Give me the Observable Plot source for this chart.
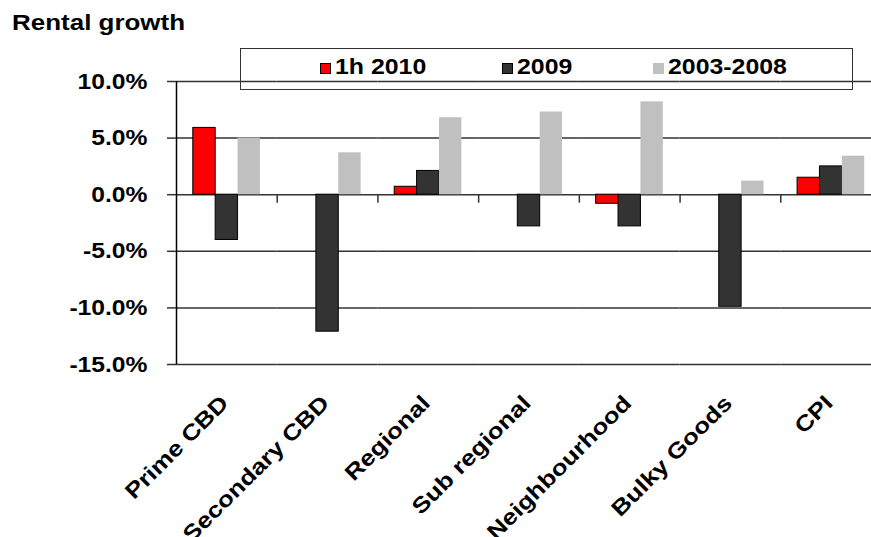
<!DOCTYPE html>
<html>
<head>
<meta charset="utf-8">
<script src="https://cdn.jsdelivr.net/npm/d3@7"></script>
<script src="https://cdn.jsdelivr.net/npm/@observablehq/plot@0.6"></script>
<style>
  body { margin: 0; background: #fff; }
  #wrap { position: relative; width: 871px; height: 537px; overflow: hidden;
          font-family: "Liberation Sans", Arial, sans-serif; font-weight: bold; color: #000; }
  #chart { position: absolute; left: 0; top: 0; }
  #title { position: absolute; left: 12px; top: 12px; font-size: 22px; line-height: 22px;
           white-space: nowrap; transform: scaleX(1.18); transform-origin: left center; }
  #legend { position: absolute; left: 240px; top: 48px; width: 613px; height: 42px;
            border: 1.5px solid #333; box-sizing: border-box; }
  .item { position: absolute; top: 7px; font-size: 22px; line-height: 22px; white-space: nowrap; }
  .sw { display: inline-block; margin-right: 4px; }
  .lt { display: inline-block; transform: scaleX(1.13); transform-origin: left center; }
</style>
</head>
<body>
<div id="wrap">
  <div id="chart"></div>
  <div id="title">Rental growth</div>
  <div id="legend"></div>
</div>
<script>
// Annual rental growth by retail / office segment, %
const categories = ["Prime CBD", "Secondary CBD", "Regional", "Sub regional", "Neighbourhood", "Bulky Goods", "CPI"];
const series = ["1h 2010", "2009", "2003-2008"];
const growth1h2010 = [5.9, null, 0.7, null, -0.8, null, 1.5];
const growth2009 = [-4.0, -12.1, 2.1, -2.8, -2.8, -9.9, 2.5];
const growth2003to2008 = [5.0, 3.7, 6.8, 7.3, 8.2, 1.2, 3.4];
const yTicks = [-15, -10, -5, 0, 5, 10];
const seriesColors = ["#ff0000", "#333333", "#c0c0c0"];
const legendLeft = [79, 261, 412];

// long table for the grouped bars
const columns = [growth1h2010, growth2009, growth2003to2008];
const rows = categories.flatMap((category, i) =>
  series.map((s, j) => ({category, series: s, value: columns[j][i]}))
).filter(d => d.value != null);

const W = 871, H = 537;
const mLeft = 176, mRight = -10, mTop = 81, mBottom = 173;
const step = (W - mLeft - mRight) / categories.length;

const chart = Plot.plot({
  width: W,
  height: H,
  marginTop: mTop,
  marginRight: mRight,
  marginBottom: mBottom,
  marginLeft: mLeft,
  style: {fontFamily: "'Liberation Sans', Arial, sans-serif", fontSize: "22px", fontWeight: "bold",
          color: "#000", background: "transparent"},
  fx: {domain: categories, padding: 0, round: false, axis: null, label: null},
  x: {domain: series, axis: null, round: false, paddingInner: 0, paddingOuter: 0.75},
  y: {domain: [-15, 10], axis: null},
  color: {domain: series, range: seriesColors},
  marks: [
    Plot.gridY(yTicks, {stroke: "#333", strokeOpacity: 1, strokeWidth: 1.5}),
    Plot.barY(rows, {filter: d => d.series !== series[2], fx: "category", x: "series", y: "value",
                     fill: "series", stroke: "#000", strokeWidth: 1}),
    Plot.barY(rows, {filter: d => d.series === series[2], fx: "category", x: "series", y: "value",
                     fill: "series"}),
    // category separators below the zero line
    Plot.ruleX(categories.slice(1), {fx: d => d, x: null, y1: 0, y2: -0.75, dx: -step / 2,
                                     stroke: "#333", strokeWidth: 1.5}),
    // vertical value axis line
    Plot.ruleX(categories.slice(0, 1), {fx: d => d, x: null, y1: -15, y2: 10, dx: -step / 2,
                                        stroke: "#000", strokeWidth: 1.5}),
    Plot.axisY({ticks: yTicks, tickSize: 9, tickPadding: 20, label: null,
                tickFormat: d => d.toFixed(1) + "%", stroke: "#333", strokeWidth: 1.5}),
    Plot.axisFx({anchor: "bottom", tickSize: 0, tickRotate: -45, textAnchor: "end", lineAnchor: "middle",
                 tickPadding: 35, dx: -2, label: null})
  ]
});
document.getElementById("chart").append(chart);

// wide bold lettering: stretch each end-anchored label, keeping its end in place
function widen(selector, k) {
  chart.querySelectorAll(selector).forEach(t => {
    const len = t.getComputedTextLength() * k;
    t.setAttribute("text-anchor", "start");
    t.setAttribute("x", (-len).toFixed(1));
    t.setAttribute("textLength", len.toFixed(1));
    t.setAttribute("lengthAdjust", "spacingAndGlyphs");
  });
}
widen('g[aria-label="y-axis tick label"] text', 1.12);
widen('g[aria-label="fx-axis tick label"] text', 1.18);

// legend
const legend = document.getElementById("legend");
series.forEach((s, i) => {
  const item = document.createElement("div");
  item.className = "item";
  item.style.left = legendLeft[i] + "px";
  const sw = document.createElement("span");
  sw.className = "sw";
  if (i < 2) {
    sw.style.width = "9px"; sw.style.height = "9px"; sw.style.border = "1px solid #000";
  } else {
    sw.style.width = "11px"; sw.style.height = "11px";
  }
  sw.style.background = seriesColors[i];
  const lt = document.createElement("span");
  lt.className = "lt";
  lt.textContent = s;
  item.append(sw, lt);
  legend.append(item);
});
</script>
</body>
</html>
